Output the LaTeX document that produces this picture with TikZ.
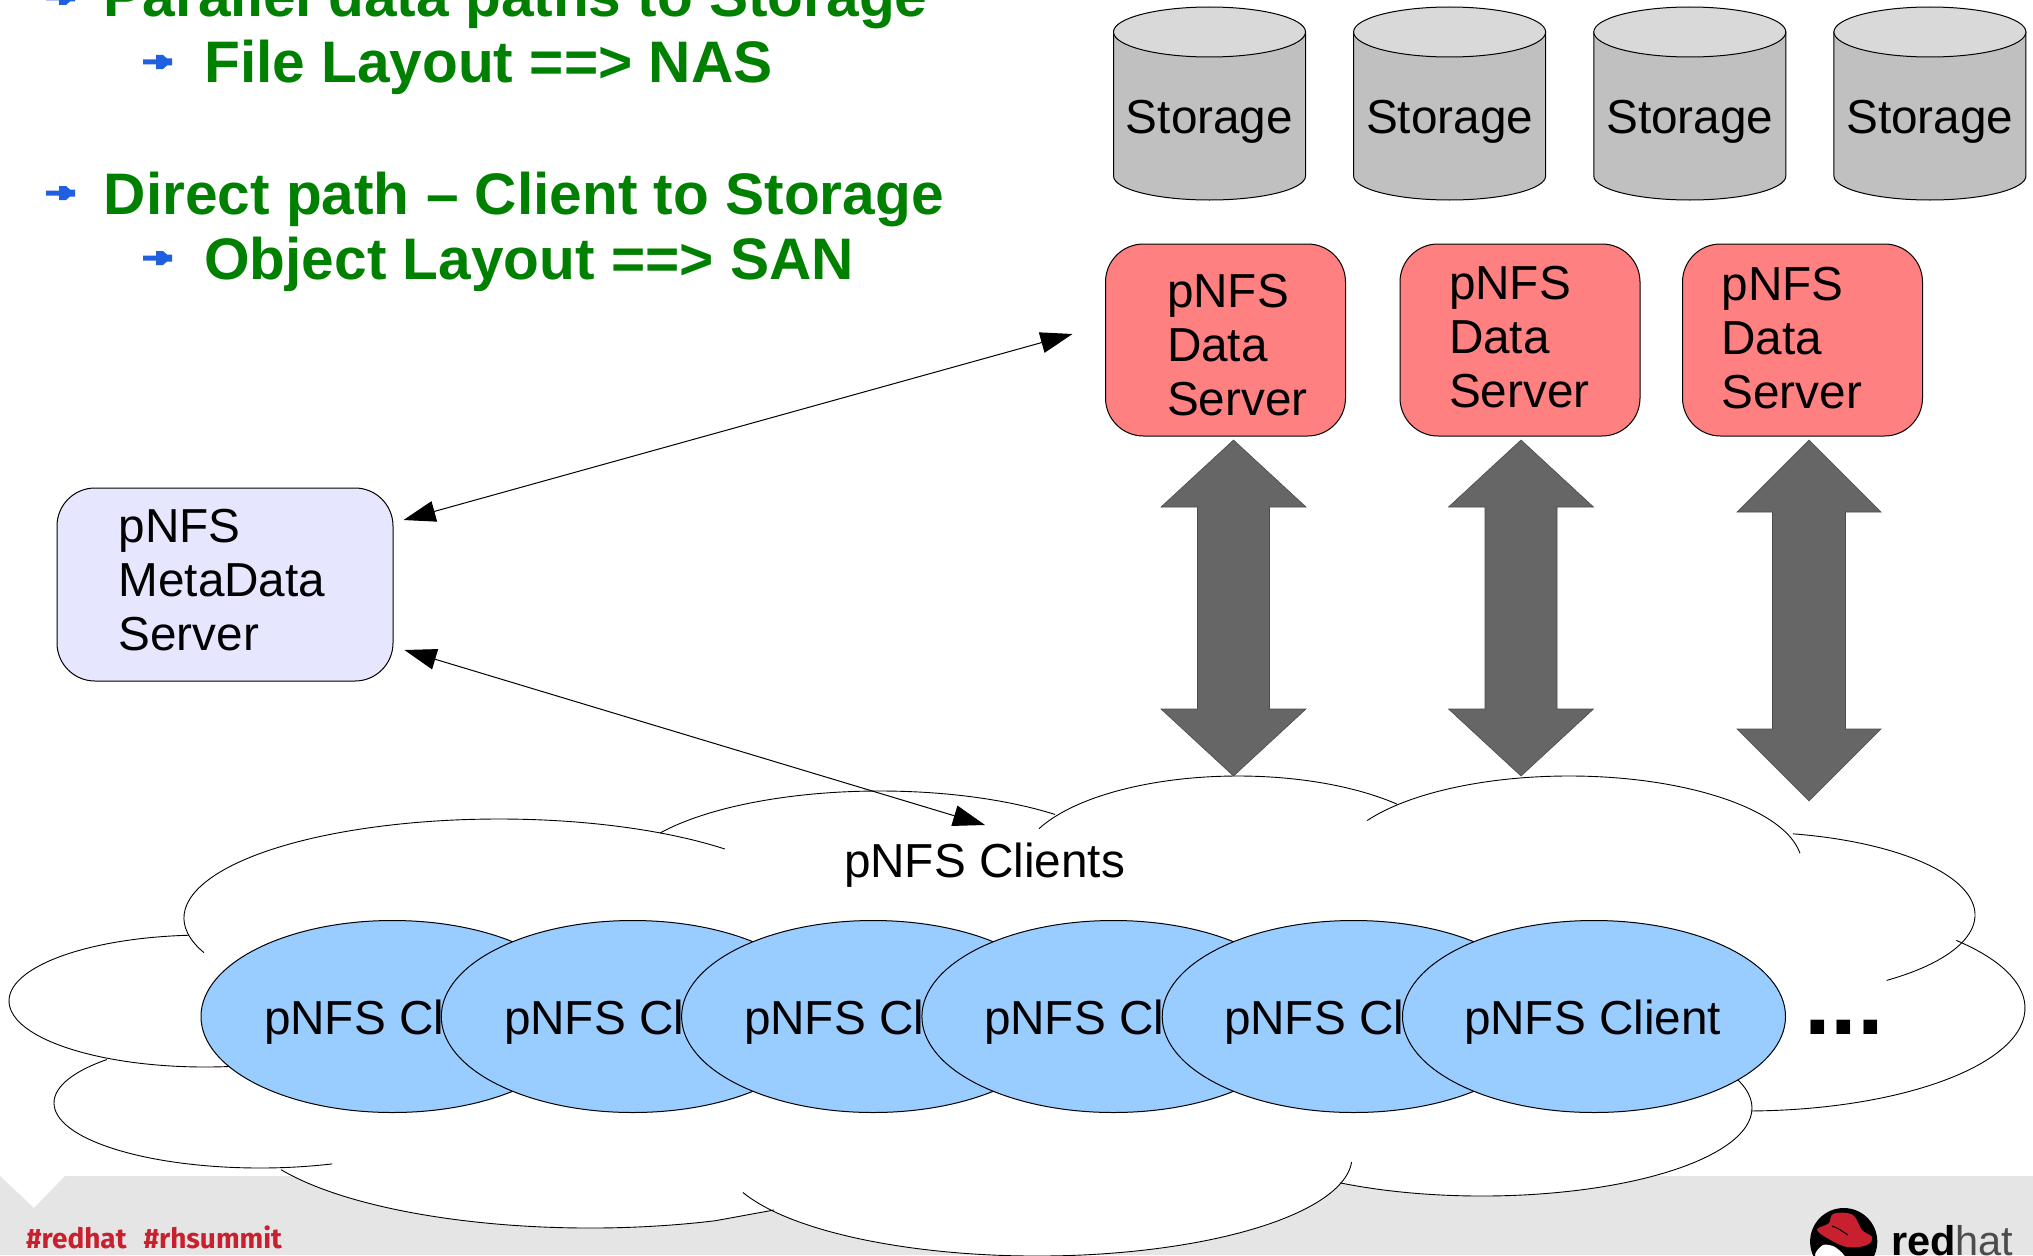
\documentclass[tikz,border=0pt]{standalone}
\usepackage{fontspec}
\setmainfont{Liberation Sans}
\newfontfamily\tagfont{Fira Sans}
\usetikzlibrary{arrows.meta,shapes.geometric}
\definecolor{greentxt}{HTML}{008000}
\definecolor{stbody}{HTML}{C0C0C0}
\definecolor{sttop}{HTML}{D9D9D9}
\definecolor{dsfill}{HTML}{FF8080}
\definecolor{mdfill}{HTML}{E6E6FF}
\definecolor{clfill}{HTML}{99CCFF}
\definecolor{bigarrow}{HTML}{666666}
\definecolor{footgray}{HTML}{E5E5E5}
\definecolor{rhred}{HTML}{C8202F}
\definecolor{bulletblue}{HTML}{1F60E0}
\tikzset{
  x=1pt,y=-1pt,
  txt/.style={anchor=base west,inner sep=0pt,outer sep=0pt,font=\fontsize{47.7}{54}\selectfont,align=left},
  headline/.style={anchor=base west,inner sep=0pt,font=\bfseries\fontsize{58.6}{66}\selectfont,text=greentxt},
  dsbox/.style={draw=black,line width=1pt,fill=dsfill,rounded corners=38pt,minimum width=240pt,minimum height=192pt,inner sep=0pt},
  mdbox/.style={draw=black,line width=1pt,fill=mdfill,rounded corners=38pt,minimum width=336pt,minimum height=193pt,inner sep=0pt},
  clbox/.style={draw=black,line width=1pt,fill=clfill,ellipse,minimum width=383pt,minimum height=192pt,inner sep=0pt},
  thinarrow/.style={draw=black,line width=1pt,{Triangle[length=32pt,width=21pt]}-{Triangle[length=32pt,width=21pt]}},
  bigarrowstyle/.style={fill=bigarrow,draw=black!70,line width=.6pt},
  lobe/.style={draw=black,line width=.9pt},
}
\newcommand\storagecyl[2]{%
  \draw[fill=stbody,line width=1pt] (#1-96,32) -- (#1-96,176) arc[start angle=180,end angle=0,x radius=96,y radius=24] -- (#1+96,32) -- cycle;
  \draw[fill=sttop,line width=1pt] (#1,32) ellipse[x radius=96,y radius=25];
  \node[txt,anchor=base] (#2) at (#1,133) {Storage};
}
\newcommand\dblarrow[7]{% cx, halfhead, halfshaft, top, neck1, neck2, bottom
  \path[bigarrowstyle] (#1,#4) -- (#1+#2,#5) -- (#1+#3,#5) -- (#1+#3,#6) -- (#1+#2,#6) -- (#1,#7) -- (#1-#2,#6) -- (#1-#3,#6) -- (#1-#3,#5) -- (#1-#2,#5) -- cycle;
}
\newcommand\bulletmark[2]{%
  \fill[bulletblue] (#1,#2-2.5) -- (#1+13,#2-2.5) -- (#1+13,#2-7) -- (#1+20,#2-7) -- (#1+24,#2-3.5) -- (#1+29,#2-3.5) -- (#1+29,#2+3.5) -- (#1+24,#2+3.5) -- (#1+20,#2+7) -- (#1+13,#2+7) -- (#1+13,#2+2.5) -- (#1,#2+2.5) -- cycle;
}
% cx cy rx ry start end continuation
\newcommand\lobefill[7]{\fill[white] ({#1+#3*cos(#5)},{#2+#4*sin(#5)}) arc[start angle=#5,end angle=#6,x radius=#3,y radius=#4] #7 -- (1000,1000) -- cycle;}
\newcommand\lobeline[7]{\draw[lobe] ({#1+#3*cos(#5)},{#2+#4*sin(#5)}) arc[start angle=#5,end angle=#6,x radius=#3,y radius=#4] #7;}
\newcommand\cloudlobes[1]{%
  #1{205}{1001}{196}{66}{265.3}{83}{}%
  #1{260}{1103}{206}{65}{222}{69.5}{}%
  #1{590}{1118}{350}{110}{152}{69}{-- (774,1210)}%
  #1{1037}{1157}{315}{99}{159}{3}{}%
  #1{1482}{1108}{270}{88}{121.7}{-19.3}{}%
  #1{1745}{1008}{280}{103}{88.8}{-41}{}%
  #1{1745}{915}{230}{83}{52}{-78}{}%
  #1{1569}{865}{233}{89}{352.4}{210}{}%
  #1{1238}{865}{218}{89}{204.1}{316.8}{}%
  #1{880}{881}{260}{90}{212.2}{312.3}{}%
  #1{499}{918}{315}{99}{159.5}{315.8}{}%
}
\begin{document}
\begin{tikzpicture}
\useasboundingbox (0,0) rectangle (2033,1255);
\clip (0,0) rectangle (2033,1255);
\fill[white] (0,0) rectangle (2033,1255);
% footer
\fill[footgray] (0,1176) -- (34,1208) -- (65,1176) -- (2033,1176) -- (2033,1255) -- (0,1255) -- cycle;
\node[anchor=base west,inner sep=0pt,text=rhred,font=\tagfont\bfseries\fontsize{28}{30}\selectfont] (tags) at (26,1248) {\#redhat\hspace{17pt}\#rhsummit};
% logo
\fill[black] (1843.7,1241.6) circle[radius=33.6];
\begin{scope}
\clip (1843.7,1241.6) circle[radius=33.6];
\fill[white] plot[smooth cycle] coordinates{(1823,1245) (1835,1247) (1845,1258) (1825,1262) (1815,1255)};
\end{scope}
\fill[rhred] plot[smooth cycle,tension=.6] coordinates{(1817,1230) (1827,1238) (1847,1247) (1867,1245) (1872,1237) (1862,1230) (1855,1217) (1847,1213) (1833,1214) (1829,1223) (1823,1226)};
\draw[black,line width=1pt] (1832,1226) .. controls (1838,1228) and (1842,1231) .. (1848,1235);
\node[anchor=base west,inner sep=0pt,font=\fontsize{41.5}{50}\selectfont] (logotext) at (1891,1255.6) {\textbf{red}\textcolor{black!70}{hat}};
% cloud
\cloudlobes{\lobefill}
\cloudlobes{\lobeline}
% heading text
\bulletmark{46}{-2}
\node[headline] (h1) at (103.5,17) {Parallel data paths to Storage};
\bulletmark{143}{62}
\node[headline] (h2) at (204,82) {File Layout ==> NAS};
\bulletmark{46}{193}
\node[headline] (h3) at (103.5,214) {Direct path – Client to Storage};
\bulletmark{143}{258}
\node[headline] (h4) at (204,279) {Object Layout ==> SAN};
% storage
\storagecyl{1209.5}{st1}
\storagecyl{1449.6}{st2}
\storagecyl{1689.8}{st3}
\storagecyl{1929.9}{st4}
% data servers
\node[dsbox] (ds1) at (1225.5,340) {};
\node[dsbox] (ds2) at (1520,340) {};
\node[dsbox] (ds3) at (1802.5,340) {};
\node[txt] (ds1t) at (1167,415) {pNFS\\Data\\Server};
\node[txt] (ds2t) at (1449,407.5) {pNFS\\Data\\Server};
\node[txt] (ds3t) at (1721.5,408.5) {pNFS\\Data\\Server};
% metadata
\node[mdbox] (md) at (225,584.5) {};
\node[txt] (mdt) at (118.5,650) {pNFS\\MetaData\\Server};
% double arrows
\dblarrow{1233.5}{72.5}{36}{440}{507}{709}{776}
\dblarrow{1521}{72.5}{36}{440}{507}{709}{776}
\dblarrow{1809}{72}{36.5}{440}{512}{729}{801}
% thin arrows
\coordinate (mdne) at ([shift={(10,-64.5)}]md.east);
\coordinate (mdse) at ([shift={(11,65.5)}]md.east);
\coordinate (dsw) at ([shift={(-32.5,-6)}]ds1.west);
\coordinate (cloudtop) at (985,825);
\draw[thinarrow] (mdne) -- (dsw);
\draw[thinarrow] (mdse) -- (cloudtop);
% clients
\node[txt,anchor=base west] (cloudlabel) at (844,877) {pNFS Clients};
\foreach \i/\cx/\tx in {1/392.5/264,2/632.8/504,3/873.1/744,4/1113.4/984,5/1353.7/1224,6/1594/1464}{
  \node[clbox] (cl\i) at (\cx,1016.5) {};
  \node[txt] (cl\i t) at (\tx,1034) {pNFS Client};
}
\node[anchor=base west,inner sep=0pt,font=\bfseries\fontsize{96}{100}\selectfont] (more) at (1804,1034) {...};
\end{tikzpicture}
\end{document}
